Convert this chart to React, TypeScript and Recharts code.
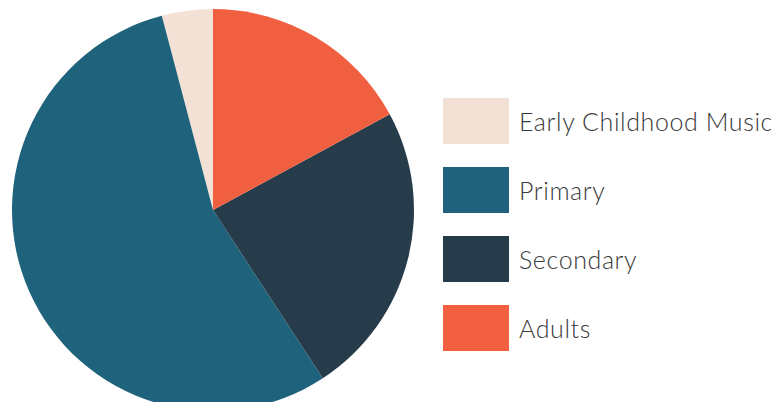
import React from 'react';
import { Cell, Legend, Pie, PieChart } from 'recharts';

const categories = ['Early Childhood Music', 'Primary', 'Secondary', 'Adults'];
const shares = [4.1, 55.1, 23.7, 17.1];
const colors = ['#F3E1D6', '#1E637B', '#273C4A', '#F15F41'];

const data = categories.map((name, i) => ({ name, value: shares[i] }));

// legend is drawn in data order (recharts would sort it by name)
const LegendList = () => (
  <div>
    {categories.map((name, i) => (
      <div
        key={name}
        style={{ display: 'flex', alignItems: 'center', height: 46, marginBottom: i < 3 ? 23 : 0 }}>
        <div style={{ width: 66, height: 46, background: colors[i] }} />
        <span
          style={{
            marginLeft: 10,
            fontFamily: 'Lato, sans-serif',
            fontSize: 25,
            fontWeight: 300,
            letterSpacing: 0.6,
            color: '#3a3a3a',
            whiteSpace: 'nowrap',
          }}>
          {name}
        </span>
      </div>
    ))}
  </div>
);

const App = () => (
  <div style={{ margin: -8, background: '#fff' }}>
    <PieChart width={779} height={410} margin={{ top: 0, right: 0, bottom: 0, left: 0 }}>
      <Pie
        data={data}
        dataKey="value"
        nameKey="name"
        cx={213}
        cy={210}
        outerRadius={201}
        startAngle={90}
        endAngle={450}
        stroke="none"
        isAnimationActive={false}>
        {data.map((d, i) => (
          <Cell key={d.name} fill={colors[i]} />
        ))}
      </Pie>
      <Legend
        layout="vertical"
        content={LegendList}
        wrapperStyle={{ left: 443, top: 98, width: 330 }}
      />
    </PieChart>
  </div>
);

export default App;
